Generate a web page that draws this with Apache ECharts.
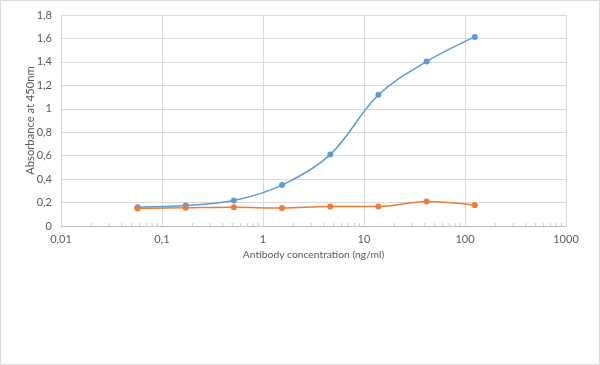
<!DOCTYPE html>
<html>
<head>
<meta charset="utf-8">
<script src="https://cdn.jsdelivr.net/npm/echarts@6/dist/echarts.min.js"></script>
<style>
html,body{margin:0;padding:0;background:#fff;}
#c{width:600px;height:365px;}
</style>
</head>
<body>
<div id="c"></div>
<script>
var concentrations = [0.0572, 0.1715, 0.5144, 1.543, 4.63, 13.89, 41.67, 125];
var seriesA = [0.161, 0.175, 0.218, 0.349, 0.609, 1.119, 1.403, 1.613];
var seriesB = [0.150, 0.155, 0.160, 0.153, 0.167, 0.167, 0.210, 0.178];
var yTicks = [0, 0.2, 0.4, 0.6, 0.8, 1, 1.2, 1.4, 1.6, 1.8];
var xDecades = [0.01, 0.1, 1, 10, 100, 1000];
var minorMultipliers = [2, 3, 4, 5, 6, 7, 8, 9];

var minorTicks = [];
for (var i = 0; i < xDecades.length - 1; i++) {
  for (var j = 0; j < minorMultipliers.length; j++) {
    minorTicks.push([xDecades[i] * minorMultipliers[j], 0]);
  }
}
function pairs(xs, ys) { return xs.map(function (x, k) { return [x, ys[k]]; }); }
function fmt(v) { return String(+v.toPrecision(6)).replace('.', ','); }

var textColor = '#595959';
var font = 'Lato, "Open Sans", sans-serif';
var chart = echarts.init(document.getElementById('c'), null, {renderer: 'canvas'});
chart.setOption({
  animation: false,
  backgroundColor: '#fff',
  graphic: [{
    type: 'rect', silent: true, z: -10,
    shape: {x: 0.5, y: 0.5, width: 599, height: 364},
    style: {fill: null, stroke: '#d9d9d9', lineWidth: 1}
  }],
  grid: {left: 61, right: 34, top: 15, bottom: 139, containLabel: false},
  xAxis: {
    type: 'log', logBase: 10,
    min: xDecades[0], max: xDecades[xDecades.length - 1],
    name: 'Antibody concentration (ng/ml)',
    nameLocation: 'middle', nameGap: 24, nameMoveOverlap: false,
    nameTextStyle: {color: textColor, fontFamily: font, fontSize: 10.3},
    axisLine: {show: true, lineStyle: {color: '#bfbfbf', width: 1}},
    axisTick: {show: false, inside: true},
    minorTick: {show: false},
    splitLine: {show: true, lineStyle: {color: '#d9d9d9', width: 1}},
    axisLabel: {color: textColor, fontFamily: font, fontSize: 11, margin: 8,
      formatter: function (v) { return fmt(v); }}
  },
  yAxis: {
    type: 'value', min: yTicks[0], max: yTicks[yTicks.length - 1], interval: 0.2,
    name: 'Absorbance at 450nm',
    nameLocation: 'middle', nameGap: 25, nameRotate: 90, nameMoveOverlap: false,
    nameTextStyle: {color: textColor, fontFamily: font, fontSize: 11.2},
    axisLine: {show: false},
    axisTick: {show: false},
    splitLine: {show: true, lineStyle: {color: '#d9d9d9', width: 1}},
    axisLabel: {color: textColor, fontFamily: font, fontSize: 11, margin: 9,
      formatter: function (v) { return fmt(v); }}
  },
  series: [
    {
      type: 'scatter', silent: true, z: 1,
      data: minorTicks,
      symbol: 'rect', symbolSize: [1, 3], symbolOffset: [0, -1.5],
      itemStyle: {color: '#bfbfbf'}
    },
    {
      type: 'line', name: 'A', data: pairs(concentrations, seriesA),
      smooth: 0.35, symbol: 'circle', symbolSize: 6, showAllSymbol: true,
      lineStyle: {color: '#5B9BD5', width: 1.5},
      itemStyle: {color: '#5B9BD5'}, z: 3
    },
    {
      type: 'line', name: 'B', data: pairs(concentrations, seriesB),
      smooth: 0.35, symbol: 'circle', symbolSize: 6, showAllSymbol: true,
      lineStyle: {color: '#ED7D31', width: 1.5},
      itemStyle: {color: '#ED7D31'}, z: 4
    }
  ]
});
</script>
</body>
</html>
